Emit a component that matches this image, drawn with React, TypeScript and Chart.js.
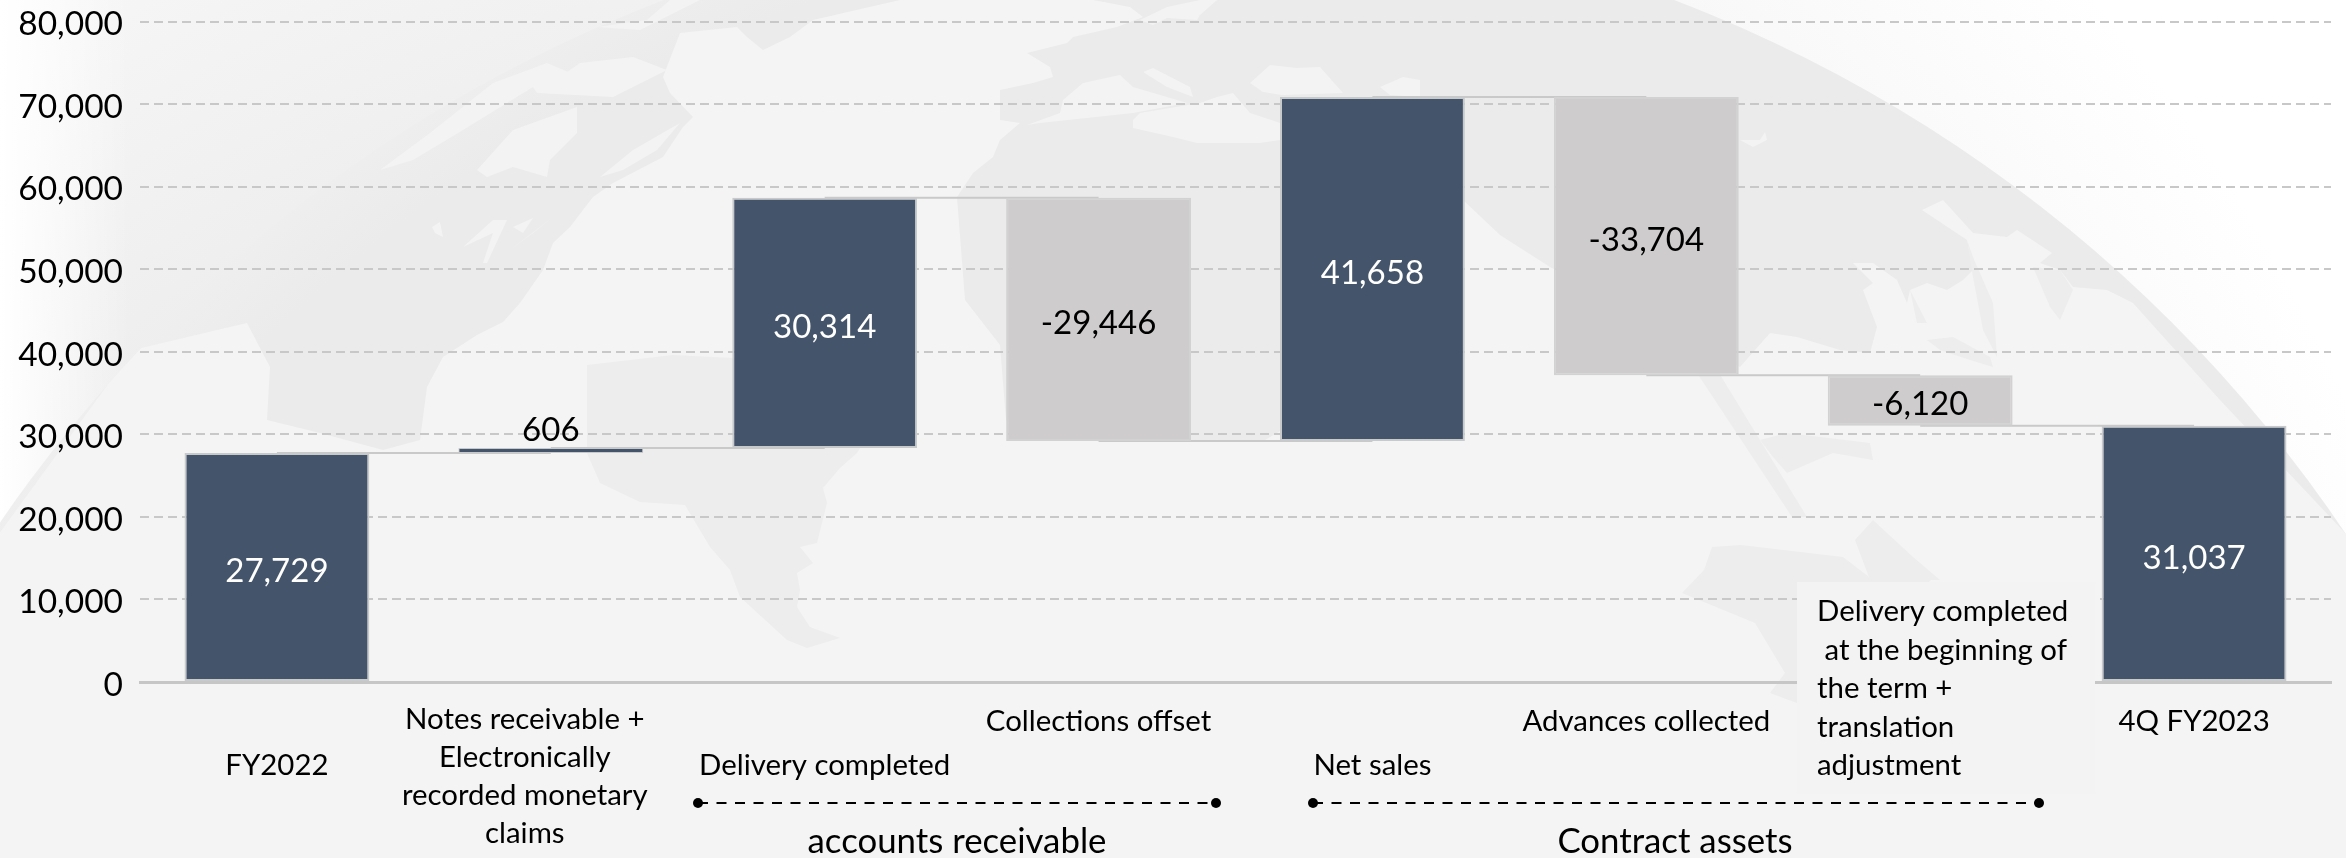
import React, { useEffect, useRef } from "react";
import { Chart, registerables } from "chart.js";

Chart.register(...registerables);

// Waterfall steps
const stepNames = [
  "FY2022",
  "Notes receivable + Electronically recorded monetary claims",
  "Delivery completed",
  "Collections offset",
  "Net sales",
  "Advances collected",
  "Delivery completed at the beginning of the term + translation adjustment",
  "4Q FY2023",
];
const openingBalance = 27729;
const movements = [606, 30314, -29446, 41658, -33704, -6120];
const closingBalance = 31037;
const yTicks = [0, 10000, 20000, 30000, 40000, 50000, 60000, 70000, 80000];
const groupNames = ["accounts receivable", "Contract assets"];

// Floating ranges, value labels and connector levels follow from the movements
const ranges: [number, number][] = [[0, openingBalance]];
const connectorLevels: number[] = [openingBalance];
movements.forEach((m) => {
  const from = connectorLevels[connectorLevels.length - 1];
  ranges.push([from, from + m]);
  connectorLevels.push(from + m);
});
ranges.push([0, closingBalance]);
const stepValues = [openingBalance, ...movements, closingBalance];

const W = 2346;
const H = 858;
const FONT = "Lato, Carlito, sans-serif";
const NAVY = "#44546a";
const SILVER = "#cecccd";

const fmt = (n: number) => n.toLocaleString("en-US");

// Category captions: text lines, anchor and vertical position
const captions = [
  { lines: ["FY2022"], step: 0, dx: 0, y: [766] },
  { lines: ["Notes receivable +", "Electronically", "recorded monetary", "claims"], step: 1, dx: -26, y: [720, 758, 796, 834] },
  { lines: ["Delivery completed"], step: 2, dx: 0, y: [766] },
  { lines: ["Collections offset"], step: 3, dx: 0, y: [722] },
  { lines: ["Net sales"], step: 4, dx: 0, y: [766] },
  { lines: ["Advances collected"], step: 5, dx: 0, y: [722] },
  { lines: ["4Q FY2023"], step: 7, dx: 0, y: [722] },
];
const noteLines = ["Delivery completed", " at the beginning of", "the term +", "translation", "adjustment"];

type Pt = [number, number];
const poly = (ctx: CanvasRenderingContext2D, pts: Pt[], color: string) => {
  ctx.beginPath();
  pts.forEach(([x, y], i) => (i ? ctx.lineTo(x, y) : ctx.moveTo(x, y)));
  ctx.closePath();
  ctx.fillStyle = color;
  ctx.fill();
};

// Pale world map on the globe behind the plot
const mainland: Pt[] = [
  [-20, 560], [133, 350], [217, 330], [247, 323], [270, 367], [267, 420], [320, 433], [383, 450], [420, 440], [427, 387], [443, 357],
  [477, 335], [503, 322], [520, 303], [543, 270], [553, 243], [570, 227], [593, 197], [613, 183], [663, 157], [683, 127], [693, 117],
  [670, 93], [663, 77], [680, 33], [737, 27], [747, 37], [763, 50], [790, 37], [813, 20], [900, 0], [1093, 0], [1130, 7], [1143, 17],
  [1117, 27], [1073, 37], [1067, 43], [1027, 53], [1050, 67], [1053, 77], [1033, 83], [1000, 90], [1000, 120], [1020, 123], [1000, 140],
  [993, 157], [973, 173], [957, 197], [965, 300], [1000, 345], [1006, 420], [1191, 440], [1265, 440], [1282, 430], [1463, 200], [1500, 235],
  [1550, 267], [1740, 367], [1770, 333], [1797, 337], [1840, 350], [1870, 353], [1877, 327], [1863, 290], [1873, 283], [1853, 263], [1873, 263],
  [1897, 280], [1907, 303], [1910, 290], [1927, 283], [1947, 290], [1963, 280], [1973, 270], [1967, 240], [1922, 210], [1943, 200], [1973, 233],
  [2007, 237], [2017, 230], [2052, 253], [2040, 263], [2060, 270], [2073, 287], [2107, 290], [2133, 303], [2220, 400], [2346, 534], [2400, 900], [-20, 900],
];
const islands: Pt[][] = [
  [[477, 170], [513, 130], [577, 107], [577, 133], [550, 160], [547, 177], [513, 167], [487, 177]],
  [[600, 177], [633, 150], [680, 123], [657, 150], [623, 170]],
  [[380, 170], [430, 133], [493, 83], [547, 63], [580, 77], [537, 93], [533, 87], [463, 130], [413, 160]],
  [[537, 93], [580, 63], [633, 57], [667, 70], [613, 97]],
  [[597, 27], [647, 20], [670, 0], [700, 0], [640, 30]],
  [[432, 227], [440, 222], [443, 237], [435, 233]],
  [[463, 247], [493, 220], [507, 220], [487, 263], [483, 263], [493, 233]],
  [[510, 250], [553, 217], [533, 233]],
  [[513, 227], [533, 218], [523, 233]],
  [[1027, 125], [1060, 113], [1063, 100], [1083, 83], [1120, 75], [1133, 87], [1167, 97], [1187, 103], [1133, 113], [1040, 123]],
  [[1133, 120], [1140, 113], [1200, 103], [1217, 97], [1233, 93], [1250, 113], [1280, 123], [1280, 140], [1260, 143], [1197, 143], [1173, 137], [1133, 128]],
  [[1143, 72], [1153, 68], [1190, 87], [1193, 97], [1167, 87]],
  [[1250, 83], [1270, 65], [1297, 68], [1320, 67], [1343, 93], [1282, 95], [1263, 92]],
  [[1380, 87], [1403, 77], [1420, 80], [1420, 97], [1390, 95]],
  [[1167, 7], [1200, 0], [1217, 0], [1200, 15], [1197, 20], [1167, 18], [1153, 25], [1140, 20]],
  [[1740, 140], [1760, 140], [1765, 132], [1767, 140], [1753, 147]],
];
const inlandSeas: Pt[][] = [
  [[587, 365], [587, 453], [600, 483], [640, 502], [685, 505], [710, 547], [730, 570], [740, 597], [787, 640], [807, 648], [840, 638], [810, 627], [797, 607], [800, 590], [797, 573], [813, 563], [800, 547], [817, 543], [827, 503], [823, 488], [840, 468], [857, 453], [890, 400], [880, 350], [733, 358], [673, 355]],
  [[2033, 267], [2060, 270], [2073, 290], [2060, 320], [2050, 307]],
  [[1967, 240], [1973, 257], [1993, 303], [1997, 357], [1983, 330], [1973, 277]],
  [[1910, 290], [1927, 323], [1917, 323]],
  [[1927, 340], [1953, 337], [1990, 357], [1993, 367], [1970, 360], [1940, 350]],
  [[1760, 440], [1787, 433], [1870, 443], [1873, 460], [1833, 453], [1787, 473], [1773, 457]],
  [[1697, 373], [1719, 373], [1807, 517], [1792, 517]],
  [[1712, 547], [1741, 545], [1843, 557], [1873, 580], [1931, 580], [1797, 703], [1770, 693], [1785, 673], [1755, 623], [1682, 593], [1704, 570]],
  [[1873, 520], [1913, 557], [1940, 580], [1870, 580], [1855, 540]],
];

const backdrop = {
  id: "backdrop",
  beforeDraw(chart: Chart) {
    const ctx = chart.ctx;
    ctx.save();
    ctx.fillStyle = "#ffffff";
    ctx.fillRect(0, 0, W, H);
    const glow = ctx.createRadialGradient(800, 1100, 900, 800, 1100, 1700);
    glow.addColorStop(0, "#ececec");
    glow.addColorStop(1, "#ffffff");
    ctx.fillStyle = glow;
    ctx.fillRect(0, 0, W, H);
    const edge = ctx.createLinearGradient(0, 0, 130, 0);
    edge.addColorStop(0, "rgba(255,255,255,1)");
    edge.addColorStop(1, "rgba(255,255,255,0)");
    ctx.fillStyle = edge;
    ctx.fillRect(0, 0, 130, H);

    ctx.beginPath();
    ctx.arc(1169, 1325, 1418, 0, Math.PI * 2);
    ctx.clip();
    const sea = ctx.createRadialGradient(1300, 1400, 1480, 1300, 1400, 1600);
    sea.addColorStop(0, "#ebebeb");
    sea.addColorStop(1, "#f0f0f0");
    ctx.fillStyle = sea;
    ctx.fillRect(0, 0, W, H);
    poly(ctx, mainland, "#f4f4f4");
    islands.forEach((shape) => poly(ctx, shape, "#f3f3f3"));
    inlandSeas.forEach((shape) => poly(ctx, shape, "#ededed"));
    ctx.restore();
  },
};

// Note panel that interrupts the grid and baseline
const notePanel = {
  id: "notePanel",
  beforeDatasetsDraw(chart: Chart) {
    const ctx = chart.ctx;
    ctx.fillStyle = "#f3f3f3";
    ctx.fillRect(1797, 582, 298, 212);
  },
};

const drawBracket = (ctx: CanvasRenderingContext2D, x0: number, x1: number, y: number) => {
  ctx.strokeStyle = "#000000";
  ctx.lineWidth = 2;
  ctx.setLineDash([10, 8.5]);
  ctx.beginPath();
  ctx.moveTo(x0, y);
  ctx.lineTo(x1, y);
  ctx.stroke();
  ctx.setLineDash([]);
  ctx.fillStyle = "#000000";
  [x0, x1].forEach((x) => {
    ctx.beginPath();
    ctx.arc(x, y, 5, 0, Math.PI * 2);
    ctx.fill();
  });
};

const annotations = {
  id: "annotations",
  afterDraw(chart: Chart) {
    const ctx = chart.ctx;
    const xs = chart.scales.x;
    const ys = chart.scales.y;
    ctx.save();
    ctx.textBaseline = "middle";

    // Values on the bars
    ctx.textAlign = "center";
    ctx.font = `33px ${FONT}`;
    stepValues.forEach((v, i) => {
      const [a, b] = ranges[i];
      const x = xs.getPixelForValue(i);
      const small = Math.abs(v) < 2000;
      const y = small ? ys.getPixelForValue(Math.max(a, b)) - 18 : ys.getPixelForValue((a + b) / 2) + 4;
      ctx.fillStyle = i === 0 || i === 2 || i === 4 || i === 7 ? "#ffffff" : "#000000";
      ctx.fillText(v < 0 ? `-${fmt(-v)}` : fmt(v), x, y);
    });

    // Captions under the axis
    ctx.fillStyle = "#000000";
    ctx.font = `29.4px ${FONT}`;
    captions.forEach((c) => {
      const x = xs.getPixelForValue(c.step) + c.dx;
      c.lines.forEach((line, i) => ctx.fillText(line, x, c.y[i]));
    });
    ctx.textAlign = "left";
    noteLines.forEach((line, i) => ctx.fillText(line, 1817, 612 + i * 38.5));

    // Group brackets and titles
    drawBracket(ctx, 698, 1216, 803);
    drawBracket(ctx, 1313, 2039, 803);
    ctx.textAlign = "center";
    ctx.font = `34.8px ${FONT}`;
    ctx.fillText(groupNames[0], 957, 842);
    ctx.fillText(groupNames[1], 1675, 842);
    ctx.restore();
  },
};

export default function App() {
  const ref = useRef<HTMLCanvasElement>(null);
  useEffect(() => {
    const connectors = connectorLevels.map((level, i) => ({
      type: "line" as const,
      data: stepNames.map((_, k) => (k === i || k === i + 1 ? level : null)),
      borderColor: "#c9c9c9",
      borderWidth: 2,
      pointRadius: 0,
      spanGaps: false,
      order: 2,
    }));
    const chart = new Chart(ref.current!, {
      type: "bar",
      data: {
        labels: stepNames,
        datasets: [
          {
            type: "bar" as const,
            data: ranges as any,
            backgroundColor: stepValues.map((_, i) => (i === 3 || i === 5 || i === 6 ? SILVER : NAVY)),
            borderColor: stepValues.map((_, i) => (i === 3 || i === 5 || i === 6 ? "#d2d2d2" : "#c8c9cb")),
            borderWidth: stepValues.map((_, i) => (i === 1 ? 1 : 2)),
            borderSkipped: false,
            barPercentage: 0.675,
            categoryPercentage: 1,
            order: 1,
          },
          ...connectors,
        ],
      },
      options: {
        responsive: false,
        animation: false,
        devicePixelRatio: 1,
        layout: { padding: { top: 21.5, right: 15, left: 0, bottom: 0 } },
        plugins: { legend: { display: false }, tooltip: { enabled: false } },
        scales: {
          x: {
            ticks: { display: false },
            grid: { display: false },
            border: { color: "#c6c6c6", width: 3 },
            afterFit: (s: any) => {
              s.height = H - 682;
            },
          },
          y: {
            min: 0,
            max: 80000,
            afterBuildTicks: (s: any) => {
              s.ticks = yTicks.map((value) => ({ value }));
            },
            ticks: {
              color: "#000000",
              font: { family: FONT, size: 33.5 },
              padding: 17,
              labelOffset: 3,
              callback: (v: any) => fmt(Number(v)),
            },
            grid: { color: "#c8c8c8", lineWidth: 2, drawTicks: false },
            border: { display: false, dash: [9, 5] },
            afterFit: (s: any) => {
              s.width = 140;
              s.paddingTop = 0;
              s.paddingBottom = 0;
            },
          },
        },
      },
      plugins: [backdrop, notePanel, annotations],
    } as any);
    return () => chart.destroy();
  }, []);
  return (
    <div style={{ position: "absolute", left: 0, top: 0, width: W, height: H, overflow: "hidden" }}>
      <canvas ref={ref} width={W} height={H} style={{ display: "block", width: W, height: H }} />
    </div>
  );
}
